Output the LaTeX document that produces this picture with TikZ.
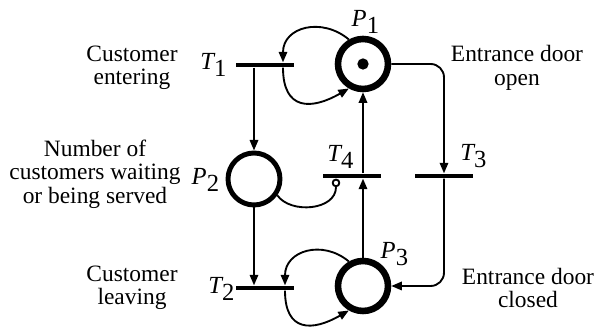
\documentclass[tikz,border=0pt]{standalone}
\usepackage{fontspec}
\setmainfont{Liberation Serif}
\usetikzlibrary{arrows.meta}

\begin{document}
\begin{tikzpicture}[x=0.015cm, y=0.015cm, >={Triangle[length=4.5pt,width=3.6pt]},
  line join=round,
  place/.style={circle, draw, line width=2.1pt, minimum size=0.78cm, inner sep=0pt},
  bigplace/.style={place, line width=2.8pt, minimum size=0.75cm},
  trans/.style={rectangle, fill=black, minimum width=0.87cm, minimum height=0.065cm, inner sep=0pt},
  flow/.style={->, line width=0.8pt},
  inhib/.style={circle, draw, fill=white, line width=0.8pt, minimum size=0.1cm, inner sep=0pt},
  token/.style={circle, fill=black, minimum size=0.17cm, inner sep=0pt},
  lbl/.style={font=\fontsize{10.5}{10.5}\selectfont},
  note/.style={align=center, font=\fontsize{10}{10}\selectfont}]

\useasboundingbox (0,0) rectangle (594,-329);

% ---------- places ----------
\node[bigplace] (P1) at (363,-64) {};
\node[token] (tok) at (P1) {};
\node[place] (P2) at (254,-179) {};
\node[bigplace] (P3) at (363,-286) {};

% ---------- transitions ----------
\node[trans] (T1) at (265,-65) {};
\node[trans] (T2) at (265,-288) {};
\node[trans] (T3) at (444,-176) {};
\node[trans] (T4) at (352,-176) {};
\node[inhib, anchor=north] (T4i) at ([xshift=-0.24cm]T4.south) {};

% ---------- arcs ----------
\draw[flow] (P1.120) to[out=140,in=90,looseness=1.3] ([xshift=0.27cm]T1.north);
\draw[flow] ([xshift=0.27cm]T1.south) to[out=-90,in=210,looseness=1.6] (P1.240);
\draw[flow] (P3.120) to[out=140,in=90,looseness=1.3] ([xshift=0.3cm]T2.north);
\draw[flow] ([xshift=0.3cm]T2.south) to[out=-90,in=210,looseness=1.6] (P3.240);

\draw[flow] (P2.north |- T1.south) -- (P2.north);
\draw[flow] (P2.south) -- (P2.south |- T2.north);
\draw[flow] (P3.north) -- (P3.north |- T4.south);
\draw[flow] (P1.south |- T4.north) -- (P1.south);
\draw[flow, rounded corners=0.2cm] (P1.east) -| (T3.north);
\draw[flow, rounded corners=0.2cm] (T3.south) |- (P3.east);
\draw[line width=0.8pt] (P2.-35) to[out=-55,in=-90] (T4i.south);

% ---------- labels ----------
\node[lbl] (lP1) at (366,-22) {$\textit{P}_{\textrm{1}}$};
\node[lbl] (lP2) at (206,-180) {$\textit{P}_{\textrm{2}}$};
\node[lbl] (lP3) at (395,-254) {$\textit{P}_{\textrm{3}}$};
\node[lbl] (lT1) at (214,-65) {$\textit{T}_{\textrm{1}}$};
\node[lbl] (lT2) at (222,-289) {$\textit{T}_{\textrm{2}}$};
\node[lbl] (lT3) at (474,-156) {$\textit{T}_{\textrm{3}}$};
\node[lbl] (lT4) at (341,-157) {$\textit{T}_{\textrm{4}}$};

\node[note] (nT1) at (132,-68) {Customer\\entering};
\node[note] (nP2) at (95,-174) {Number of\\customers waiting\\or being served};
\node[note] (nT2) at (132,-288) {Customer\\leaving};
\node[note] (nP1) at (517,-68) {Entrance door\\open};
\node[note] (nP3) at (528,-288) {Entrance door\\closed};
\end{tikzpicture}
\end{document}
